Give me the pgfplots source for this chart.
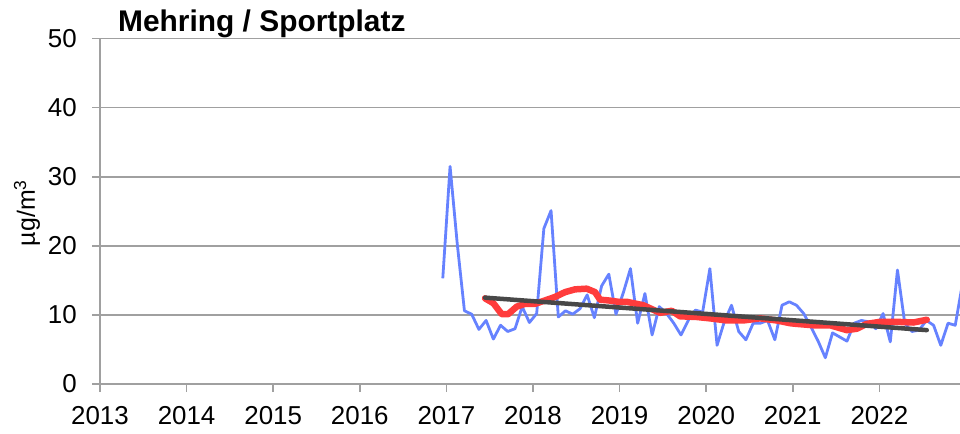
\documentclass[border=0pt]{standalone}
\usepackage{pgfplots}
\pgfplotsset{compat=1.18}
\usepackage{fontspec}
\setmainfont{Liberation Sans}
\definecolor{gridgray}{RGB}{160,160,160}
\definecolor{serblue}{RGB}{102,130,255}
\definecolor{serred}{RGB}{255,60,60}
\definecolor{serdark}{RGB}{72,72,72}
\begin{document}
\begin{tikzpicture}
\begin{axis}[
  scale only axis, width=860bp, height=345.4bp,
  xmin=2013, xmax=2022.93, ymin=0, ymax=50,
  axis x line=bottom, axis y line=left,
  axis line style={-, draw=gridgray, line width=1.6bp},
  xtick={2013,2014,...,2022}, ytick={0,10,...,50},
  ymajorgrids, grid style={gridgray, line width=1.6bp},
  tick align=outside, major tick length=8bp,
  tick style={gridgray, line width=1.6bp},
  ticklabel style={font=\fontsize{26}{30}\selectfont},
  xticklabel style={/pgf/number format/1000 sep={}, anchor=north, inner sep=0pt, yshift=-14.5bp},
  yticklabel style={anchor=east, inner sep=0pt, xshift=-15bp},
  /pgf/number format/assume math mode=true,
  clip=true,
]
% monthly means
\addplot[serblue, line width=2.8bp, line join=round] coordinates {
(2016.958,15.3)
(2017.042,31.5)(2017.125,20.3)(2017.208,10.6)(2017.292,10.1)(2017.375,7.9)(2017.458,9.2)
(2017.542,6.5)(2017.625,8.5)(2017.708,7.6)(2017.792,8.0)(2017.875,11.2)(2017.958,8.9)
(2018.042,10.2)(2018.125,22.5)(2018.208,25.1)(2018.292,9.7)(2018.375,10.6)(2018.458,10.1)
(2018.542,10.9)(2018.625,12.9)(2018.708,9.6)(2018.792,14.2)(2018.875,15.9)(2018.958,10.1)
(2019.042,13.2)(2019.125,16.7)(2019.208,8.8)(2019.292,13.1)(2019.375,7.1)(2019.458,11.2)
(2019.542,10.2)(2019.625,8.8)(2019.708,7.1)(2019.792,9.2)(2019.875,10.7)(2019.958,10.4)
(2020.042,16.7)(2020.125,5.6)(2020.208,9.0)(2020.292,11.4)(2020.375,7.6)(2020.458,6.4)
(2020.542,8.8)(2020.625,8.8)(2020.708,9.2)(2020.792,6.4)(2020.875,11.4)(2020.958,11.9)
(2021.042,11.4)(2021.125,10.2)(2021.208,8.3)(2021.292,6.2)(2021.375,3.8)(2021.458,7.4)
(2021.542,6.8)(2021.625,6.2)(2021.708,8.8)(2021.792,9.2)(2021.875,9.0)(2021.958,8.0)
(2022.042,10.2)(2022.125,6.1)(2022.208,16.5)(2022.292,8.8)(2022.375,7.6)(2022.458,7.8)
(2022.542,9.2)(2022.625,8.5)(2022.708,5.6)(2022.792,8.8)(2022.875,8.5)(2022.958,14.5)
};
% moving average
\addplot[serred, line width=6.5bp, line join=round, line cap=round] coordinates {
(2017.446,12.4)(2017.542,11.7)(2017.639,10.1)(2017.711,10.1)(2017.812,11.2)(2017.908,11.6)
(2018.023,11.6)(2018.139,12.1)(2018.254,12.6)(2018.370,13.3)(2018.485,13.7)(2018.620,13.8)
(2018.716,13.3)(2018.774,12.2)(2018.870,12.1)(2018.985,11.9)(2019.082,11.9)(2019.274,11.4)
(2019.467,10.3)(2019.601,10.6)(2019.697,9.8)(2019.890,9.7)(2020.044,9.5)(2020.237,9.2)
(2020.428,9.2)(2020.621,9.5)(2020.814,9.2)(2020.968,8.8)(2021.045,8.7)(2021.237,8.5)
(2021.430,8.5)(2021.622,7.8)(2021.738,8.0)(2021.852,8.7)(2022.007,9.0)(2022.200,9.0)
(2022.391,8.9)(2022.546,9.3)
};
% trend
\addplot[serdark, line width=4.5bp, line cap=round] coordinates {
(2017.446,12.5)(2022.546,7.8)
};
\end{axis}
\node[anchor=base west, inner sep=0pt, font=\fontsize{30}{34}\selectfont\bfseries] at (18bp,352bp) {Mehring / Sportplatz};
\node[rotate=90, font=\fontsize{25}{29}\selectfont] at (-73bp,171bp) {µg/m\textsuperscript{3}};
\pgfresetboundingbox
\path[use as bounding box] (-100bp,-50bp) rectangle (860bp,384bp);
\end{tikzpicture}
\end{document}
